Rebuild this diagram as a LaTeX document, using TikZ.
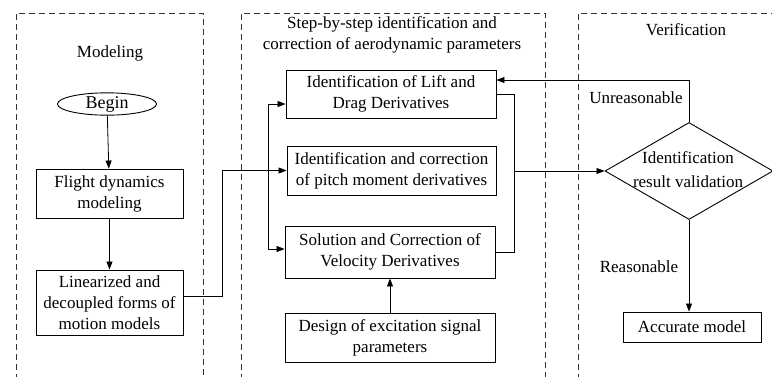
\documentclass[tikz,border=0pt]{standalone}
\usepackage{fontspec}
\setmainfont{Liberation Serif}
\newfontfamily\tnr{Liberation Serif}
\usetikzlibrary{shapes.geometric,arrows.meta}
\begin{document}
\begin{tikzpicture}[x=1pt,y=-1pt,
  font=\tnr\fontsize{17}{21}\selectfont,
  panel/.style={draw=black!80, line width=0.9pt, dash pattern=on 6pt off 4pt},
  box/.style={draw, line width=0.9pt, align=center, inner sep=0pt},
  arr/.style={draw, line width=0.8pt, -{Triangle[length=8pt,width=6pt]}},
  ln/.style={draw, line width=0.8pt}]
\useasboundingbox (0,0) rectangle (772,376);
% panels
\draw[panel] (16,380) -- (16,13) -- (203,13) -- (203,380);
\draw[panel] (241,380) -- (241,13) -- (545,13) -- (545,380);
\draw[panel] (578,380) -- (578,13) -- (780,13);
% titles
\node (tmod) at (110,53) {Modeling};
\node[align=center] (tmid) at (392,35) {Step-by-step identification and\\correction of aerodynamic parameters};
\node (tver) at (686,30) {Verification};
% nodes
\node[box, ellipse, minimum width=99pt, minimum height=21pt, font=\tnr\fontsize{18}{21}\selectfont] (begin) at (107,104) {Begin};
\node[box, minimum width=147pt, minimum height=49pt] (fdm) at (109.5,193.5) {Flight dynamics\\modeling};
\node[box, minimum width=147pt, minimum height=65pt] (lin) at (109.5,302.5) {Linearized and\\decoupled forms of\\motion models};
\node[box, minimum width=210pt, minimum height=48pt] (lift) at (391,94) {Identification of Lift and\\Drag Derivatives};
\node[box, minimum width=209pt, minimum height=49pt] (pitch) at (391.5,170.5) {Identification and correction\\of pitch moment derivatives};
\node[box, minimum width=210pt, minimum height=52pt] (sol) at (390,252) {Solution and Correction of\\Velocity Derivatives};
\node[box, minimum width=210pt, minimum height=49pt] (design) at (390,337.5) {Design of excitation signal\\parameters};
\node[draw, line width=0.9pt, diamond, minimum width=168pt, minimum height=97pt, inner sep=0pt] (dia) at (689,171) {};
\node[align=center, font=\tnr\fontsize{17}{24}\selectfont] (diat) at (688,169.5) {Identification\\result validation};
\node[box, minimum width=138pt, minimum height=30pt] (acc) at (692,327) {Accurate model};
% junctions
\coordinate (jl) at (268,0);
\coordinate (jr) at (514,0);
% connectors
\draw[arr] (begin) -- (fdm);
\draw[arr] (fdm) -- (lin);
\draw[arr] ([yshift=6pt]lin.east) -- ++(39,0) |- (pitch.west);
\draw[arr] (jl |- pitch.west) |- ([yshift=-10pt]lift.west);
\draw[arr] (jl |- pitch.west) |- ([yshift=3pt]sol.west);
\draw[arr] (design) -- (sol);
\draw[ln] (lift.east) -| (jr |- sol.east) -- (sol.east);
\draw[arr] (jr |- dia.west) -- (dia.west);
\draw[arr] (dia.north) |- ([yshift=14pt]lift.east);
\draw[arr] (dia.south) -- (dia.south |- acc.north);
% labels
\node (lunr) at (636,98) {Unreasonable};
\node (lrea) at (639,267) {Reasonable};
\end{tikzpicture}
\end{document}
